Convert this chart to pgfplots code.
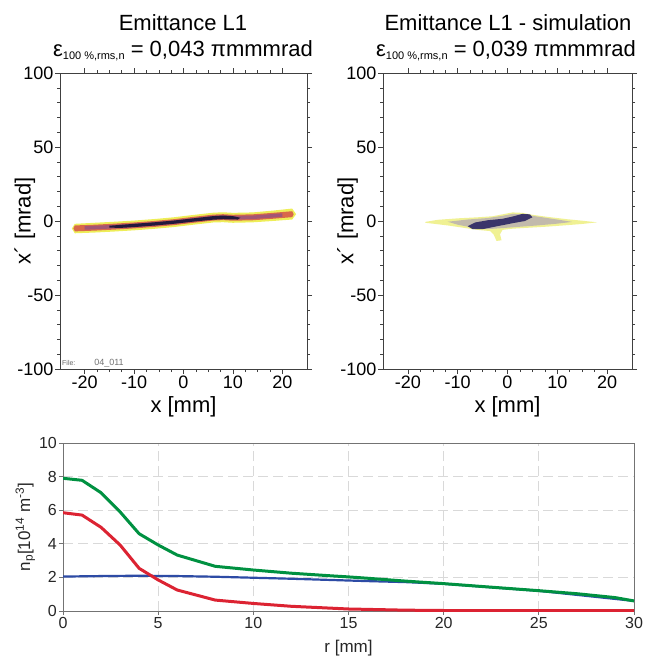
\documentclass[border=0pt]{standalone}
\usepackage{pgfplots}
\pgfplotsset{compat=1.18}
\usepackage{fontspec}
\setmainfont{Liberation Sans}
\definecolor{beamyel}{RGB}{236,236,70}
\definecolor{beamred}{RGB}{210,60,70}
\definecolor{beampur}{RGB}{110,70,160}
\definecolor{beamdark}{RGB}{22,18,55}
\definecolor{simyel}{RGB}{236,238,120}
\definecolor{simmid}{RGB}{165,150,190}
\definecolor{simdark}{RGB}{35,30,95}
\definecolor{npgreen}{RGB}{0,145,65}
\definecolor{npred}{RGB}{220,35,50}
\definecolor{npblue}{RGB}{45,75,165}

\pgfplotsset{
  emit/.style={
    scale only axis, width=247bp, height=296bp,
    xmin=-25, xmax=25, ymin=-100, ymax=100,
    xtick={-20,-10,0,10,20}, ytick={-100,-50,0,50,100},
    minor x tick num=3, minor y tick num=4,
    tick align=outside, major tick length=5bp, minor tick length=3bp,
    axis line style={black!75, line width=0.8bp},
    tick style={black!75, line width=0.6bp},
    /pgf/number format/assume math mode=true,
    ticklabel style={font=\fontsize{18bp}{20bp}\selectfont, inner sep=1.5bp},
    xlabel={x [mm]}, ylabel={x´ [mrad]},
    every axis x label/.style={at={(axis description cs:0.5,-0.128)}, anchor=center, font=\fontsize{22bp}{24bp}\selectfont},
    every axis y label/.style={at={(axis description cs:-0.142,0.5)}, anchor=center, rotate=90, font=\fontsize{22bp}{24bp}\selectfont},
  },
}

\begin{document}
\begin{tikzpicture}
\useasboundingbox (0,0) rectangle (652bp,-658bp);

% measured beam
\begin{axis}[emit, at={(60bp,-369bp)}, anchor=south west]
\addplot[draw=none, fill=beamyel, fill opacity=0.9] coordinates {
(-22.6,-5.1)(-22,-1.9)(-18,-1.2)(-14,-0.5)(-10,0.3)(-6,1.3)(-2,2.5)(2,4.1)(6,5.6)(8,5.9)(10,5.5)(14,5.8)(18,7.0)(22,8.4)(22.8,4.6)
(22,1.0)(18,0.0)(14,-0.9)(10,-1.2)(8,-0.8)(6,-1.0)(2,-2.5)(-2,-4.1)(-6,-5.3)(-10,-6.3)(-14,-7.1)(-18,-7.8)(-22,-8.3)} -- cycle;
\addplot[draw=none, fill=beamred, fill opacity=0.75] coordinates {
(-22.3,-5.0)(-22,-3.0)(-18,-2.5)(-14,-1.8)(-10,-1.0)(-6,0)(-2,1.2)(2,2.8)(6,4.3)(8,4.6)(10,4.2)(14,4.5)(18,5.5)(22,6.6)(22.3,4.6)
(22,2.6)(18,1.5)(14,0.5)(10,0.2)(8,0.6)(6,0.3)(2,-1.2)(-2,-2.8)(-6,-4.0)(-10,-5.0)(-14,-5.8)(-18,-6.5)(-22,-7.0)} -- cycle;
\addplot[draw=none, fill=beampur, fill opacity=0.5] coordinates {
(-20,-3.5)(-14,-2.6)(-10,-1.8)(-6,-0.8)(-2,0.4)(2,2.0)(6,3.5)(8,3.8)(10,3.4)(14,3.7)(20,5.2)
(20,2.8)(14,1.3)(10,1.0)(8,1.4)(6,1.1)(2,-0.4)(-2,-2.0)(-6,-3.2)(-10,-4.2)(-14,-5.0)(-20,-5.9)} -- cycle;
\addplot[draw=none, fill=beamdark, fill opacity=0.9] coordinates {
(-15,-3.2)(-10,-1.9)(-6,-0.9)(-2,0.3)(2,1.8)(6,3.3)(8,3.7)(10,3.3)(11.5,2.2)
(11,1.0)(8,1.2)(6,0.9)(2,-0.4)(-2,-1.9)(-6,-3.1)(-10,-4.1)(-13,-4.7)(-15,-4.4)} -- cycle;
\node[anchor=base west, font=\fontsize{7bp}{8bp}\selectfont, text=black!60, inner sep=0pt] at (rel axis cs:0.008,0.012) {File:};
\node[anchor=base west, font=\fontsize{9bp}{10bp}\selectfont, text=black!55, inner sep=0pt] at (rel axis cs:0.138,0.012) {04\_011};
\end{axis}

% simulated beam
\begin{axis}[emit, at={(383bp,-369bp)}, anchor=south west, width=249bp]
\addplot[draw=none, fill=simyel, fill opacity=0.8] coordinates {
(-16.5,-0.6)(-14,0.8)(-10,1.8)(-6,2.5)(-3,3.2)(-1,4.5)(1,5.8)(3,5.5)(5,4.2)(8,2.8)(12,1.2)(15,0.2)(18,-0.9)
(15,-2.0)(12,-2.8)(8,-3.8)(4,-4.6)(1,-5.2)(-1,-6.0)(-1.5,-9)(-1.2,-13)(-2.2,-13.5)(-2.8,-9)(-3.5,-6.8)(-6,-6.0)(-9,-4.5)(-12,-3.0)(-16.5,-1.2)} -- cycle;
\addplot[draw=none, fill=simmid, fill opacity=0.6] coordinates {
(-12,-0.5)(-8,1.0)(-4,2.0)(-1,3.5)(1,4.8)(3,4.6)(6,3.0)(10,1.0)(13,-0.6)
(10,-1.8)(6,-3.0)(2,-4.0)(-1,-4.8)(-4,-5.5)(-7,-4.5)(-10,-2.5)} -- cycle;
\addplot[draw=none, fill=simdark, fill opacity=0.85] coordinates {
(-8,-3.5)(-6.5,-1)(-4,0.5)(-1,1.5)(1,3)(3,4.8)(4.5,4.5)(5,2.5)(3.5,0)(1,-1.5)(-2,-3.5)(-5,-5.5)(-7,-5.5)} -- cycle;
\end{axis}

% titles
\node[anchor=base, font=\fontsize{22bp}{24bp}\selectfont, inner sep=0pt] at (183bp,-30bp) {Emittance L1};
\node[anchor=base, font=\fontsize{22bp}{24bp}\selectfont, inner sep=0pt] at (183bp,-56bp)
  {ε{\fontsize{11bp}{12bp}\selectfont\raisebox{-3bp}{100 \%,rms,n}} = 0,043 πmmmrad};
\node[anchor=base, font=\fontsize{22bp}{24bp}\selectfont, inner sep=0pt] at (508bp,-30bp) {Emittance L1 - simulation};
\node[anchor=base, font=\fontsize{22bp}{24bp}\selectfont, inner sep=0pt] at (506bp,-56bp)
  {ε{\fontsize{11bp}{12bp}\selectfont\raisebox{-3bp}{100 \%,rms,n}} = 0,039 πmmmrad};

% plasma density profile
\begin{axis}[
  at={(63bp,-611bp)}, anchor=south west,
  scale only axis, width=571bp, height=168bp,
  xmin=0, xmax=30, ymin=0, ymax=10,
  xtick={0,5,...,30}, ytick={0,2,...,10},
  tick pos=left, tick align=outside, major tick length=4bp,
  axis line style={black!55, line width=0.9bp},
  tick style={black!55, line width=0.8bp},
  grid=major,
  major grid style={black!15, line width=0.9bp, dash pattern=on 10bp off 5bp},
  /pgf/number format/assume math mode=true,
  ticklabel style={font=\fontsize{16bp}{18bp}\selectfont, text=black!85, inner sep=2bp},
  xlabel={r [mm]},
  ylabel={n\textsubscript{p}[10\textsuperscript{14} m\textsuperscript{-3}]},
  every axis x label/.style={at={(axis description cs:0.5,-0.22)}, anchor=center, font=\fontsize{17bp}{19bp}\selectfont, text=black!85},
  every axis y label/.style={at={(axis description cs:-0.066,0.5)}, anchor=center, rotate=90, font=\fontsize{17bp}{19bp}\selectfont, text=black!85},
]
\addplot[npblue, line width=2.2bp] coordinates {
(0,2.05)(2,2.08)(4,2.1)(6,2.08)(8,2.04)(10,1.98)(12,1.92)(14,1.85)(16,1.78)(18,1.72)(20,1.62)(25,1.2)(30,0.6)};
\addplot[npgreen, line width=3bp, line join=round] coordinates {
(0,7.9)(1,7.78)(2,7.04)(3,5.9)(4,4.6)(5,3.93)(6,3.33)(8,2.66)(10,2.44)(12,2.25)(14,2.1)(15,2.03)(16,1.95)(18,1.78)(20,1.63)(22,1.46)(25,1.21)(27,1.03)(29,0.8)(30,0.6)};
\addplot[npred, line width=3bp, line join=round] coordinates {
(0,5.85)(1,5.71)(2,4.98)(3,3.93)(4,2.54)(5,1.85)(6,1.25)(8,0.65)(10,0.45)(12,0.28)(15,0.12)(18,0.05)(20,0.03)(30,0.03)};
\end{axis}
\end{tikzpicture}
\end{document}
